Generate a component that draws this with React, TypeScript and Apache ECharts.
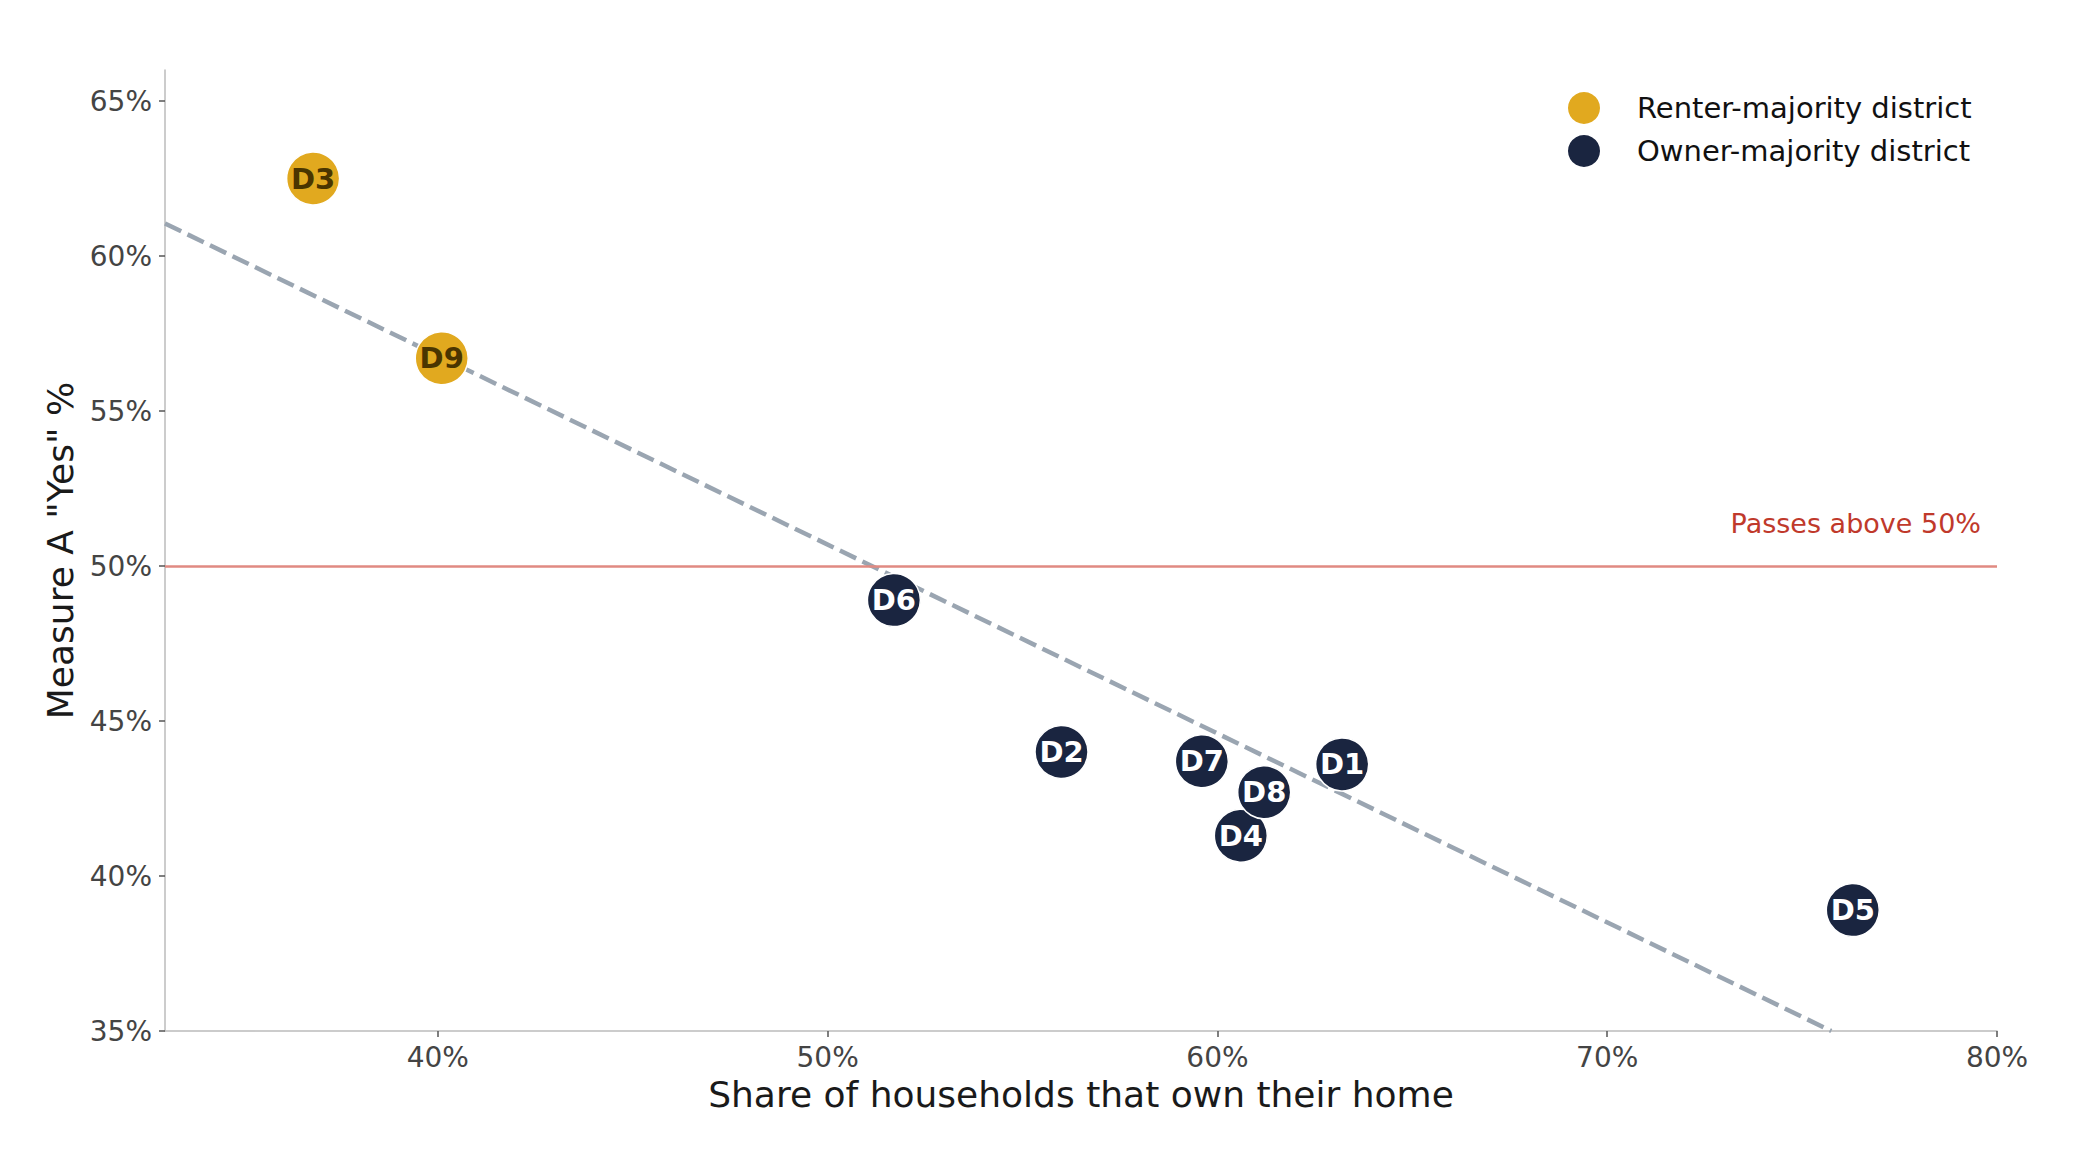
import React, { useEffect, useRef } from "react";
import * as echarts from "echarts";

const districts = ["D1", "D2", "D3", "D4", "D5", "D6", "D7", "D8", "D9"];
const ownShare = [63.2, 56.0, 36.8, 60.6, 76.3, 51.7, 59.6, 61.2, 40.1];
const yesShare = [43.6, 44.0, 62.5, 41.3, 38.9, 48.9, 43.7, 42.7, 56.7];
const tenure = ["owner", "owner", "renter", "owner", "owner", "owner", "owner", "owner", "renter"];

const trendX = [33, 75.75];
const trendY = [61.05, 35];

const xTicks = [40, 50, 60, 70, 80];
const yTicks = [35, 40, 45, 50, 55, 60, 65];

const threshold = 50;
const thresholdLabel = "Passes above 50%";

const RENTER = "#E1A91F";
const OWNER = "#1A2540";
const FONT = "DejaVu Sans";

export default function App() {
  const ref = useRef<HTMLDivElement>(null);

  useEffect(() => {
    document.body.style.margin = "0";
    const chart = echarts.init(ref.current!, null, { renderer: "svg" });

    const pts = (kind: string) =>
      districts
        .map((d, i) => ({ name: d, value: [ownShare[i], yesShare[i]], kind: tenure[i] }))
        .filter((p) => p.kind === kind)
        .map((p) => ({ name: p.name, value: p.value }));

    const option: any = {
      animation: false,
      backgroundColor: "#ffffff",
      textStyle: { fontFamily: FONT },
      grid: { left: 165, right: 83, top: 70, bottom: 139, containLabel: false },
      legend: {
        orient: "vertical",
        left: 1568,
        top: 92,
        padding: 0,
        itemWidth: 32,
        itemHeight: 32,
        itemGap: 11,
        icon: "circle",
        data: ["Renter-majority district", "Owner-majority district"],
        textStyle: { fontSize: 29, color: "#111111", fontFamily: FONT, padding: [0, 0, 0, 32] },
        itemStyle: { borderWidth: 0 },
      },
      xAxis: {
        type: "value",
        min: 33,
        max: 80,
        name: "Share of households that own their home",
        nameLocation: "middle",
        nameGap: 45,
        nameTextStyle: { fontSize: 36, color: "#1a1a1a", fontFamily: FONT },
        axisLine: { show: true, lineStyle: { color: "#BBBBBB", width: 1.5 } },
        axisTick: { show: true, length: 6, customValues: xTicks, lineStyle: { color: "#555555", width: 1.5 } },
        axisLabel: {
          customValues: xTicks,
          formatter: "{value}%",
          fontSize: 28,
          color: "#444444",
          margin: 12,
          fontFamily: FONT,
        },
        splitLine: { show: false },
      },
      yAxis: {
        type: "value",
        min: 35,
        max: 66,
        name: 'Measure A "Yes" %',
        nameLocation: "middle",
        nameGap: 81,
        nameTextStyle: { fontSize: 36, color: "#1a1a1a", fontFamily: FONT },
        axisLine: { show: true, lineStyle: { color: "#BBBBBB", width: 1.5 } },
        axisTick: { show: true, length: 6, customValues: yTicks, lineStyle: { color: "#555555", width: 1.5 } },
        axisLabel: {
          customValues: yTicks,
          formatter: "{value}%",
          fontSize: 28,
          color: "#444444",
          margin: 13,
          fontFamily: FONT,
        },
        splitLine: { show: false },
      },
      series: [
        {
          type: "line",
          name: "trend",
          data: trendX.map((x, i) => [x, trendY[i]]),
          showSymbol: false,
          symbol: "none",
          silent: true,
          z: 1,
          lineStyle: { color: "#9AA5B1", width: 4.5, type: [18, 7] },
          markLine: {
            silent: true,
            symbol: "none",
            lineStyle: { color: "#E08A82", width: 2.5, type: "solid" },
            label: {
              show: true,
              position: "insideEndTop",
              formatter: thresholdLabel,
              fontSize: 27,
              color: "#C0392B",
              fontFamily: FONT,
              distance: [16, 29],
            },
            data: [{ yAxis: threshold }],
          },
        },
        {
          type: "scatter",
          name: "Renter-majority district",
          data: pts("renter"),
          symbolSize: 53,
          z: 3,
          itemStyle: { color: RENTER, borderColor: "#ffffff", borderWidth: 1.5, opacity: 1 },
          label: {
            show: true,
            position: "inside",
            formatter: (p: any) => p.name,
            fontSize: 29,
            fontWeight: "bold",
            color: "#4A3500",
            fontFamily: FONT,
          },
        },
        {
          type: "scatter",
          name: "Owner-majority district",
          data: pts("owner"),
          symbolSize: 53,
          z: 3,
          itemStyle: { color: OWNER, borderColor: "#ffffff", borderWidth: 1.5, opacity: 1 },
          label: {
            show: true,
            position: "inside",
            formatter: (p: any) => p.name,
            fontSize: 29,
            fontWeight: "bold",
            color: "#ffffff",
            fontFamily: FONT,
          },
        },
      ],
    };

    chart.setOption(option);
    return () => chart.dispose();
  }, []);

  return <div ref={ref} style={{ width: 2080, height: 1170 }} />;
}
